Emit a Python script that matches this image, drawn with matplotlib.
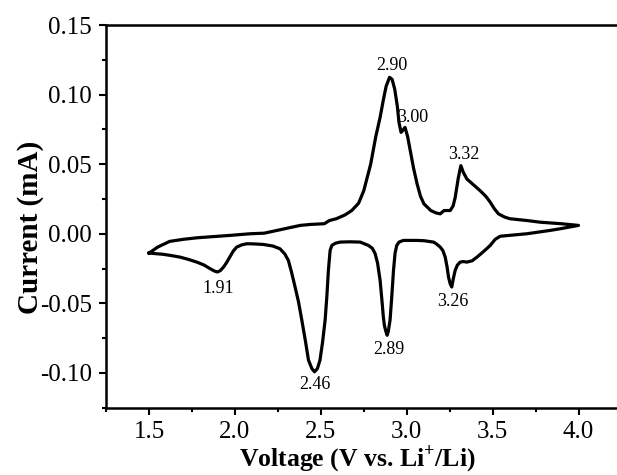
import matplotlib
matplotlib.use('Agg')
import matplotlib.pyplot as plt
from matplotlib.ticker import MultipleLocator, FormatStrFormatter

# Global configuration
plt.rcParams['font.family'] = 'Liberation Serif'
plt.rcParams['mathtext.fontset'] = 'custom'
plt.rcParams['mathtext.rm'] = 'Liberation Serif'
plt.rcParams['mathtext.bf'] = 'Liberation Serif:bold'

# Anodic sweep (1.5 V -> 4.0 V)
v_up = [1.50, 1.55, 1.62, 1.70, 1.78, 1.97, 2.09, 2.17, 2.28, 2.38, 2.44, 2.52,
        2.55, 2.59, 2.64, 2.68, 2.72, 2.75, 2.79, 2.82, 2.845, 2.865, 2.88,
        2.90, 2.915, 2.93, 2.945, 2.955, 2.967, 2.978, 2.99, 3.005, 3.02, 3.04,
        3.06, 3.08, 3.10, 3.14, 3.17, 3.195, 3.215, 3.224, 3.253, 3.27, 3.282,
        3.30, 3.315, 3.33, 3.35, 3.39, 3.427, 3.46, 3.486, 3.51, 3.534, 3.57,
        3.60, 3.70, 3.777, 3.90, 4.0]
i_up = [-0.0139, -0.0096, -0.0055, -0.0040, -0.0029, -0.0012, 0.0, 0.0004,
        0.0033, 0.006, 0.0067, 0.0072, 0.0095, 0.0108, 0.0135, 0.0167, 0.022,
        0.031, 0.050, 0.070, 0.0837, 0.097, 0.106, 0.1125, 0.111, 0.104,
        0.092, 0.080, 0.0729, 0.0745, 0.0765, 0.070, 0.060, 0.047, 0.036,
        0.027, 0.0215, 0.0167, 0.0150, 0.0143, 0.0165, 0.0167, 0.0167, 0.020,
        0.026, 0.040, 0.049, 0.044, 0.0394, 0.035, 0.031, 0.027, 0.0227,
        0.018, 0.0143, 0.0120, 0.0108, 0.0095, 0.0083, 0.0072, 0.006]

# Cathodic sweep (4.0 V -> 1.5 V)
v_down = [4.0, 3.894, 3.835, 3.70, 3.60, 3.544, 3.515, 3.486, 3.45, 3.409, 3.38,
          3.35, 3.33, 3.311, 3.295, 3.282, 3.27, 3.262, 3.253, 3.243, 3.235,
          3.224, 3.21, 3.195, 3.175, 3.156, 3.10, 3.06, 2.98, 2.955, 2.942,
          2.932, 2.923, 2.913, 2.903, 2.893, 2.886, 2.878, 2.870, 2.864, 2.855,
          2.845, 2.83, 2.816, 2.80, 2.777, 2.729, 2.67, 2.612, 2.585, 2.564,
          2.554, 2.544, 2.535, 2.525, 2.51, 2.495, 2.480, 2.463, 2.448, 2.428,
          2.41, 2.389, 2.37, 2.35, 2.33, 2.311, 2.29, 2.262, 2.22, 2.165, 2.11,
          2.069, 2.04, 2.01, 1.99, 1.97, 1.95, 1.933, 1.915, 1.898, 1.88, 1.855,
          1.82, 1.778, 1.73, 1.68, 1.63, 1.583, 1.54, 1.50]
i_down = [0.006, 0.0036, 0.0024, 0.0, -0.0012, -0.0018, -0.0040, -0.0084,
          -0.0125, -0.0168, -0.0195, -0.0204, -0.0200, -0.0204, -0.0225,
          -0.0263, -0.033, -0.0383, -0.036, -0.031, -0.024, -0.0168, -0.012,
          -0.0096, -0.0075, -0.006, -0.0050, -0.0048, -0.0048, -0.0060, -0.0084,
          -0.014, -0.0263, -0.045, -0.062, -0.070, -0.073, -0.070, -0.066,
          -0.060, -0.047, -0.0335, -0.021, -0.0143, -0.0105, -0.0084, -0.006,
          -0.0058, -0.006, -0.0068, -0.0084, -0.012, -0.0263, -0.045, -0.062,
          -0.078, -0.0909, -0.097, -0.0993, -0.097, -0.0909, -0.077, -0.062,
          -0.049, -0.0383, -0.028, -0.0192, -0.0145, -0.0108, -0.0088, -0.0077,
          -0.0073, -0.0072, -0.0080, -0.0096, -0.0125, -0.0168, -0.021, -0.024,
          -0.0265, -0.0275, -0.0268, -0.0251, -0.0225, -0.0204, -0.0185,
          -0.0168, -0.0157, -0.0148, -0.0143, -0.0139]

# Peak labels
peak_text = ['2.90', '3.00', '3.32', '1.91', '2.46', '2.89', '3.26']
peak_v = [2.913, 3.035, 3.333, 1.904, 2.465, 2.896, 3.268]
peak_i = [0.1207, 0.0837, 0.0569, -0.0395, -0.1083, -0.0832, -0.049]

fig = plt.figure(figsize=(6.17, 4.75), dpi=100)
ax = fig.add_axes([0.172, 0.142, 0.838, 0.805])

ax.plot(v_up + v_down, i_up + i_down, color='black', lw=2.3,
        solid_joinstyle='round')

for t, x, y in zip(peak_text, peak_v, peak_i):
    ax.text(x, y, t, ha='center', va='center', fontsize=13)

ax.set_xlim(1.25, 4.26)
ax.set_ylim(-0.125, 0.15)
ax.xaxis.set_major_locator(MultipleLocator(0.5))
ax.xaxis.set_minor_locator(MultipleLocator(0.25))
ax.yaxis.set_major_locator(MultipleLocator(0.05))
ax.yaxis.set_minor_locator(MultipleLocator(0.025))
ax.xaxis.set_major_formatter(FormatStrFormatter('%.1f'))
ax.yaxis.set_major_formatter(FormatStrFormatter('%.2f'))

for s in ax.spines.values():
    s.set_linewidth(1.8)
ax.spines['right'].set_visible(False)
ax.tick_params(which='major', direction='out', length=5, width=1.5,
               labelsize=18, pad=5)
ax.tick_params(which='minor', direction='out', length=3, width=1.5)

ax.set_xlabel('Voltage (V vs. Li$^{\\mathbf{+}}$/Li)', fontsize=18.5,
              fontweight='bold')
ax.xaxis.set_label_coords(0.486, -0.092)
ax.set_ylabel('Current (mA)', fontsize=21, fontweight='bold')
ax.yaxis.set_label_coords(-0.12, 0.47)

fig.savefig('out.png', dpi=100)
